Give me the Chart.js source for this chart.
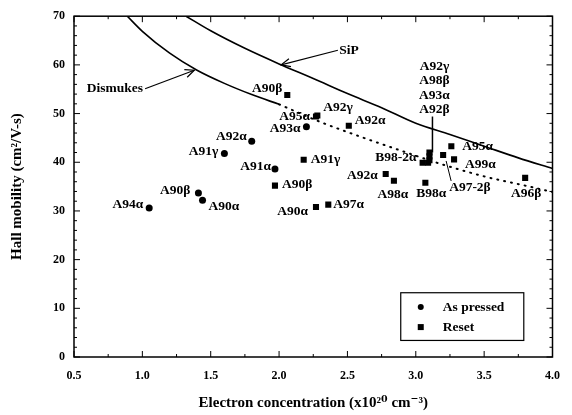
<!DOCTYPE html>
<html><head><meta charset="utf-8">
<script src="https://cdn.jsdelivr.net/npm/chart.js@4/dist/chart.umd.min.js"></script>
<style>html,body{margin:0;padding:0;background:#fff}#wrap{width:572px;height:415px}</style>
</head><body><div id="wrap"><canvas id="c" width="572" height="415"></canvas></div>
<script>
// ---- data ----
const X_TICKS = [0.5, 1.0, 1.5, 2.0, 2.5, 3.0, 3.5, 4.0];
const Y_TICKS = [0, 10, 20, 30, 40, 50, 60, 70];

const PRESSED_NAMES = ['A94α', 'A90β', 'A90α', 'A91γ', 'A92α', 'A91α', 'A93α'];
const PRESSED_X = [1.05, 1.41, 1.44, 1.60, 1.80, 1.97, 2.20];
const PRESSED_Y = [30.6, 33.7, 32.2, 41.8, 44.3, 38.6, 47.3];

const RESET_NAMES = ['A90β', 'A95α', 'A92γ', 'A92α', 'A91γ', 'A90β', 'A90α', 'A97α', 'A92α', 'A98α',
  'B98α', 'B98-2α', 'A92γ', 'A98β', 'A93α', 'A92β', 'A97-2β', 'A95α', 'A99α', 'A96β'];
const RESET_X = [2.06, 2.27, 2.28, 2.51, 2.18, 1.97, 2.27, 2.36, 2.78, 2.84,
  3.07, 3.05, 3.10, 3.10, 3.10, 3.09, 3.20, 3.26, 3.28, 3.80];
const RESET_Y = [53.8, 49.4, 49.6, 47.5, 40.5, 35.2, 30.8, 31.3, 37.6, 36.2,
  35.8, 39.9, 42.0, 41.2, 40.4, 39.9, 41.5, 43.3, 40.6, 36.8];

const SIP_X = [1.32, 1.5, 1.75, 2.0, 2.25, 2.5, 2.75, 3.0, 3.25, 3.5, 3.75, 4.0];
const SIP_Y = [70, 67.0, 63.4, 60.2, 57.2, 54.1, 51.2, 48.0, 45.7, 43.3, 40.9, 38.7];

const DISMUKES_X = [0.89, 1.0, 1.2, 1.4, 1.6, 1.8, 2.0];
const DISMUKES_Y = [70, 66.9, 62.4, 58.9, 56.2, 53.9, 51.9];
const DISMUKES_EXT_X = [2.0, 2.3, 2.6, 2.9, 3.2, 3.5, 3.8, 4.0];
const DISMUKES_EXT_Y = [51.9, 48.3, 45.2, 42.3, 39.5, 37.1, 35.2, 33.9];

const CURVE_NAMES = ['SiP', 'Dismukes'];
const LEGEND_NAMES = ['As pressed', 'Reset'];
const X_TITLE = 'Electron concentration (x10²⁰ cm⁻³)';
const Y_TITLE = 'Hall mobility (cm²/V-s)';

const pts = (xs, ys) => xs.map((x, i) => ({x, y: ys[i]}));

// ---- label placement (pixel offsets from the point) ----
const PRESSED_OFF = [
  [-6, -4, 'right'], [-8, -2, 'right'], [6, 6, 'left'], [-6, -2, 'right'],
  [-5, -5, 'right'], [-4, -3, 'right'], [-6, 2, 'right']];
const RESET_OFF = {
  0: [-5, -7, 'right'], 1: [-6, 0, 'right'], 2: [6, -8, 'left'], 3: [6, -5, 'left'],
  4: [7, 0, 'left'], 5: [7, -1, 'left'], 6: [-8, 4, 'right'], 7: [5, 0, 'left'],
  8: [-8, 2, 'right'], 9: [-1, 14, 'center'], 10: [6, 11, 'center'], 11: [-6, -5, 'right'],
  16: [6, 33, 'left'], 17: [11, 0, 'left'], 18: [11, 5, 'left'], 19: [1, 16, 'center']};
const CLUSTER = [12, 13, 14, 15];

const FONT = 'bold 13.5px "Liberation Serif", "DejaVu Serif", serif';

function arrow(ctx, x0, y0, x1, y1) {
  ctx.beginPath(); ctx.moveTo(x0, y0); ctx.lineTo(x1, y1); ctx.stroke();
  const a = Math.atan2(y1 - y0, x1 - x0), L = 10, w = 0.42;
  ctx.beginPath();
  ctx.moveTo(x1 - L * Math.cos(a - w), y1 - L * Math.sin(a - w));
  ctx.lineTo(x1, y1);
  ctx.lineTo(x1 - L * Math.cos(a + w), y1 - L * Math.sin(a + w));
  ctx.stroke();
}

const deco = {
  id: 'deco',
  afterDatasetsDraw(chart) {
    const {ctx, chartArea: ca, scales: {x, y}} = chart;
    const X = v => x.getPixelForValue(v), Y = v => y.getPixelForValue(v);
    ctx.save();
    ctx.strokeStyle = '#000'; ctx.fillStyle = '#000';
    // frame
    ctx.lineWidth = 1.5;
    ctx.strokeRect(ca.left, ca.top, ca.right - ca.left, ca.bottom - ca.top);
    // ticks (inward)
    ctx.lineWidth = 1;
    const xs = X_TICKS, ys = Y_TICKS;
    for (let i = 0; i < xs.length; i++) {
      const px = X(xs[i]);
      ctx.beginPath(); ctx.moveTo(px, ca.bottom); ctx.lineTo(px, ca.bottom - 6);
      ctx.moveTo(px, ca.top); ctx.lineTo(px, ca.top + 6); ctx.stroke();
      if (i < xs.length - 1) {
        const pm = X((xs[i] + xs[i + 1]) / 2);
        ctx.beginPath(); ctx.moveTo(pm, ca.bottom); ctx.lineTo(pm, ca.bottom - 3);
        ctx.moveTo(pm, ca.top); ctx.lineTo(pm, ca.top + 3); ctx.stroke();
      }
    }
    for (let i = 0; i < ys.length; i++) {
      const py = Y(ys[i]);
      ctx.beginPath(); ctx.moveTo(ca.left, py); ctx.lineTo(ca.left + 6, py);
      ctx.moveTo(ca.right, py); ctx.lineTo(ca.right - 6, py); ctx.stroke();
      if (i < ys.length - 1) {
        const step = (ys[i + 1] - ys[i]) / 5;
        for (let k = 1; k < 5; k++) {
          const pm = Y(ys[i] + k * step);
          ctx.beginPath(); ctx.moveTo(ca.left, pm); ctx.lineTo(ca.left + 3, pm);
          ctx.moveTo(ca.right, pm); ctx.lineTo(ca.right - 3, pm); ctx.stroke();
        }
      }
    }
    // point labels
    ctx.font = FONT; ctx.textBaseline = 'middle';
    PRESSED_NAMES.forEach((n, i) => {
      const [dx, dy, al] = PRESSED_OFF[i];
      ctx.textAlign = al; ctx.fillText(n, X(PRESSED_X[i]) + dx, Y(PRESSED_Y[i]) + dy);
    });
    RESET_NAMES.forEach((n, i) => {
      const o = RESET_OFF[i]; if (!o) return;
      ctx.textAlign = o[2]; ctx.fillText(n, X(RESET_X[i]) + o[0], Y(RESET_Y[i]) + o[1]);
    });
    // cluster stack + leader
    const c0 = CLUSTER[0], cx = X(RESET_X[c0]), cy = Y(RESET_Y[c0]);
    ctx.textAlign = 'center';
    CLUSTER.forEach((idx, k) => ctx.fillText(RESET_NAMES[idx], cx + 5, cy - 86 + k * 14.3));
    ctx.lineWidth = 1.5;
    ctx.beginPath(); ctx.moveTo(cx + 3, cy - 36); ctx.lineTo(cx + 3, cy); ctx.stroke();
    // A97-2β leader
    const li = 16, lx = X(RESET_X[li]), ly = Y(RESET_Y[li]);
    ctx.lineWidth = 1;
    ctx.beginPath(); ctx.moveTo(lx + 3, ly + 6); ctx.lineTo(lx + 8, ly + 26); ctx.stroke();
    // curve labels + arrows
    ctx.textAlign = 'left';
    ctx.fillText(CURVE_NAMES[0], X(2.44), Y(63.0));
    ctx.lineWidth = 1.2;
    arrow(ctx, X(2.43), Y(63.0), X(2.015), Y(60.0));
    ctx.textAlign = 'right';
    ctx.fillText(CURVE_NAMES[1], X(1.005), Y(55.1));
    arrow(ctx, X(1.02), Y(55.1), X(1.38), Y(58.9));
    // legend box
    const bx0 = X(2.89), bx1 = X(3.79), by0 = Y(13.2), by1 = Y(3.4);
    ctx.fillStyle = '#fff'; ctx.fillRect(bx0, by0, bx1 - bx0, by1 - by0);
    ctx.fillStyle = '#000'; ctx.lineWidth = 1.2;
    ctx.strokeRect(bx0, by0, bx1 - bx0, by1 - by0);
    const r1 = by0 + (by1 - by0) * 0.3, r2 = by0 + (by1 - by0) * 0.72, mx = bx0 + 20;
    ctx.beginPath(); ctx.arc(mx, r1, 3, 0, Math.PI * 2); ctx.fill();
    ctx.fillRect(mx - 3, r2 - 3, 6, 6);
    ctx.textAlign = 'left';
    ctx.fillText(LEGEND_NAMES[0], mx + 22, r1);
    ctx.fillText(LEGEND_NAMES[1], mx + 22, r2);
    ctx.restore();
  }
};

const tickFont = {family: '"Liberation Serif", "DejaVu Serif", serif', size: 12, weight: 'bold'};
const titleFont = {family: '"Liberation Serif", "DejaVu Serif", serif', size: 15, weight: 'bold'};

new Chart(document.getElementById('c'), {
  type: 'scatter',
  data: {
    datasets: [
      {label: CURVE_NAMES[0], type: 'line', data: pts(SIP_X, SIP_Y), borderColor: '#000',
       borderWidth: 1.6, pointRadius: 0, cubicInterpolationMode: 'monotone', fill: false},
      {label: CURVE_NAMES[1], type: 'line', data: pts(DISMUKES_X, DISMUKES_Y), borderColor: '#000',
       borderWidth: 1.6, pointRadius: 0, cubicInterpolationMode: 'monotone', fill: false},
      {label: CURVE_NAMES[1] + ' (ext)', type: 'line', data: pts(DISMUKES_EXT_X, DISMUKES_EXT_Y),
       borderColor: '#000', borderWidth: 2, borderDash: [1, 6], borderCapStyle: 'round',
       pointRadius: 0, cubicInterpolationMode: 'monotone', fill: false},
      {label: LEGEND_NAMES[0], data: pts(PRESSED_X, PRESSED_Y), pointStyle: 'circle',
       pointRadius: 3.5, backgroundColor: '#000', borderColor: '#000', borderWidth: 0},
      {label: LEGEND_NAMES[1], data: pts(RESET_X, RESET_Y), pointStyle: 'rect',
       pointRadius: 4.3, backgroundColor: '#000', borderColor: '#000', borderWidth: 0}
    ]
  },
  options: {
    responsive: false, animation: false,
    layout: {padding: {top: 15, right: 11, left: 0, bottom: 0}},
    plugins: {legend: {display: false}, tooltip: {enabled: false}},
    scales: {
      x: {type: 'linear', min: X_TICKS[0], max: X_TICKS[X_TICKS.length - 1],
          afterFit: s => { s.height = 58; },
          afterBuildTicks: s => { s.ticks = X_TICKS.map(v => ({value: v})); },
          grid: {display: false, drawTicks: false}, border: {display: false},
          ticks: {font: tickFont, color: '#000', padding: 12, maxRotation: 0,
                  callback: v => Number(v).toFixed(1)},
          title: {display: true, text: X_TITLE, font: titleFont, color: '#000', padding: {top: 0, bottom: 3}}},
      y: {type: 'linear', min: Y_TICKS[0], max: Y_TICKS[Y_TICKS.length - 1],
          afterFit: s => { s.width = 74; },
          afterBuildTicks: s => { s.ticks = Y_TICKS.map(v => ({value: v})); },
          grid: {display: false, drawTicks: false}, border: {display: false},
          ticks: {font: tickFont, color: '#000', padding: 9},
          title: {display: true, text: Y_TITLE, font: titleFont, color: '#000', padding: {top: 8, bottom: 0}}}
    }
  },
  plugins: [deco]
});
</script></body></html>
